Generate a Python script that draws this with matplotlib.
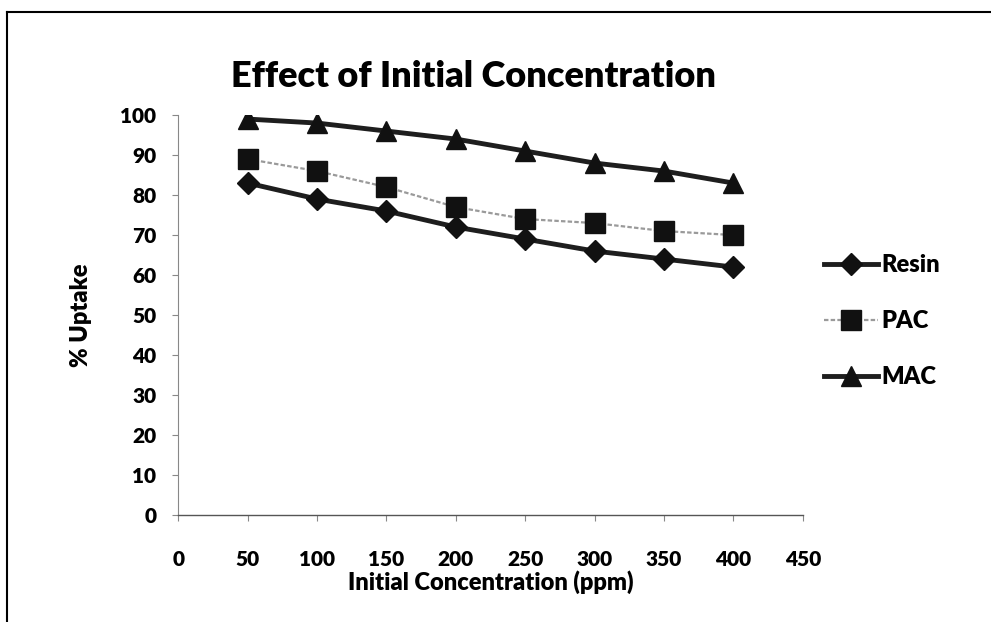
import matplotlib.pyplot as plt
from matplotlib.lines import Line2D

plt.rcParams['font.family'] = ['Lato', 'DejaVu Sans']
plt.rcParams['font.weight'] = 'heavy'

conc = [50, 100, 150, 200, 250, 300, 350, 400]
resin = [83, 79, 76, 72, 69, 66, 64, 62]
pac = [89, 86, 82, 77, 74, 73, 71, 70]
mac = [99, 98, 96, 94, 91, 88, 86, 83]

fig = plt.figure(figsize=(9.91, 6.22), dpi=100)
ax = fig.add_axes([0.180, 0.172, 0.630, 0.643])

ax.plot(conc, resin, color='#1e1e1e', lw=3.5, marker='D', ms=11,
        mfc='#111111', mec='#111111', label='Resin')
ax.plot(conc, pac, color='#9a9a9a', lw=1.6, ls=(0, (2, 1)), marker='s', ms=15,
        mfc='#111111', mec='#111111', label='PAC')
ax.plot(conc, mac, color='#1e1e1e', lw=3.5, marker='^', ms=15,
        mfc='#111111', mec='#111111', label='MAC')

ax.set_xlim(0, 450)
ax.set_ylim(0, 100)
ax.set_xticks(range(0, 451, 50))
ax.set_yticks(range(0, 101, 10))
for s in ['top', 'right']:
    ax.spines[s].set_visible(False)
ax.spines['left'].set_color('#888888')
ax.spines['left'].set_linewidth(0.8)
ax.spines['bottom'].set_color('#555555')
ax.spines['bottom'].set_linewidth(1.0)
ax.tick_params(axis='y', length=4, width=0.8, color='#888888', pad=12, labelsize=15)
ax.tick_params(axis='x', length=4, width=0.8, color='#888888', pad=21, labelsize=15)

ax.set_title('Effect of Initial Concentration', fontsize=26, fontweight='heavy',
             pad=20, x=0.472)
ax.set_xlabel('Initial Concentration (ppm)', fontsize=17, fontweight='heavy', labelpad=1)
ax.set_ylabel('% Uptake', fontsize=17, fontweight='heavy', labelpad=20)

leg = ax.legend(loc='center left', bbox_to_anchor=(1.0, 0.485), frameon=False,
                fontsize=17, handlelength=2.3, handletextpad=0.15, labelspacing=1.45)

# chart-area border (top and left visible in the scan)
fig.add_artist(Line2D([0.007, 0.007], [0.0, 0.98], color='black', lw=1.5))
fig.add_artist(Line2D([0.007, 1.0], [0.98, 0.98], color='black', lw=1.5))

fig.savefig('out.png', dpi=100)
